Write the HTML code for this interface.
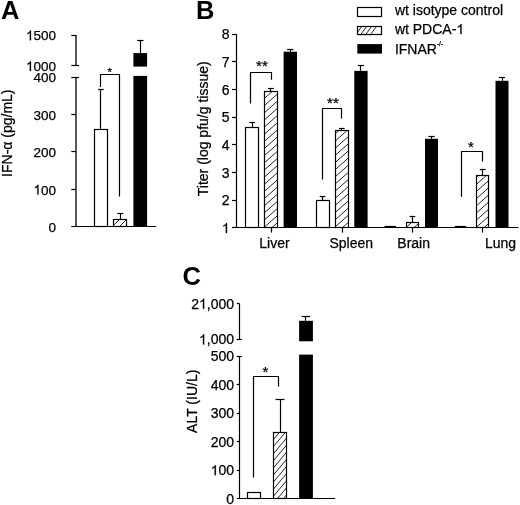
<!DOCTYPE html>
<html><head><meta charset="utf-8"><style>
html,body{margin:0;padding:0;background:#fff;}
svg{display:block;font-family:"Liberation Sans", sans-serif;filter:grayscale(1);}
text{fill:#000;stroke:#000;stroke-width:0.25px;}
</style></head><body>
<svg width="520" height="505" viewBox="0 0 520 505">
<rect width="520" height="505" fill="#fff"/>
<text x="1.0" y="18.8" font-size="25.5" text-anchor="start" font-weight="bold" style="stroke:none" >A</text>
<line x1="76.0" y1="35.1" x2="76.0" y2="65.8" stroke="#000" stroke-width="1.3"/>
<line x1="71.3" y1="35.5" x2="76.0" y2="35.5" stroke="#000" stroke-width="1.2"/>
<line x1="71.3" y1="65.5" x2="79.1" y2="65.5" stroke="#000" stroke-width="1.2"/>
<line x1="76.0" y1="77.0" x2="76.0" y2="226.7" stroke="#000" stroke-width="1.3"/>
<line x1="71.3" y1="77.5" x2="79.1" y2="77.5" stroke="#000" stroke-width="1.2"/>
<line x1="71.3" y1="189.5" x2="76.0" y2="189.5" stroke="#000" stroke-width="1.2"/>
<line x1="71.3" y1="151.5" x2="76.0" y2="151.5" stroke="#000" stroke-width="1.2"/>
<line x1="71.3" y1="114.5" x2="76.0" y2="114.5" stroke="#000" stroke-width="1.2"/>
<line x1="71.3" y1="226.5" x2="156.2" y2="226.5" stroke="#000" stroke-width="1.2"/>
<path transform="translate(25.968,40.300000000000004) scale(0.006592,-0.006592)" d="M763,0L583,0L583,1147Q518,1085 412.5,1023Q307,961 223,930L223,1104Q374,1175 487,1276Q600,1377 647,1472L763,1472Z" stroke="#000" stroke-width="37.9"/>
<text x="25.968" y="40.300000000000004" font-size="13.5" font-weight="normal" > 500</text>
<path transform="translate(25.968,71.0) scale(0.006592,-0.006592)" d="M763,0L583,0L583,1147Q518,1085 412.5,1023Q307,961 223,930L223,1104Q374,1175 487,1276Q600,1377 647,1472L763,1472Z" stroke="#000" stroke-width="37.9"/>
<text x="25.968" y="71.0" font-size="13.5" font-weight="normal" > 000</text>
<text x="56.0" y="82.2" font-size="13.5" text-anchor="end" font-weight="normal" >400</text>
<text x="56.0" y="119.69999999999999" font-size="13.5" text-anchor="end" font-weight="normal" >300</text>
<text x="56.0" y="157.09999999999997" font-size="13.5" text-anchor="end" font-weight="normal" >200</text>
<path transform="translate(33.476,194.49999999999997) scale(0.006592,-0.006592)" d="M763,0L583,0L583,1147Q518,1085 412.5,1023Q307,961 223,930L223,1104Q374,1175 487,1276Q600,1377 647,1472L763,1472Z" stroke="#000" stroke-width="37.9"/>
<text x="33.476" y="194.49999999999997" font-size="13.5" font-weight="normal" > 00</text>
<text x="56.0" y="231.89999999999998" font-size="13.5" text-anchor="end" font-weight="normal" >0</text>
<text transform="translate(11.5,133.2) rotate(-90)" font-size="14" text-anchor="middle">IFN-&#945; (pg/mL)</text>
<rect x="94.5" y="129.5" width="13.0" height="97.0" fill="#fff" stroke="#000" stroke-width="1.2"/>
<line x1="100.5" y1="89.9" x2="100.5" y2="128.8" stroke="#000" stroke-width="1.2"/>
<line x1="98.10000000000001" y1="89.5" x2="103.7" y2="89.5" stroke="#000" stroke-width="1.2"/>
<clipPath id="c1"><rect x="113.2" y="219.3" width="14.299999999999997" height="7.399999999999977"/></clipPath>
<g clip-path="url(#c1)" stroke="#000" stroke-width="0.85">
<line x1="113.20" y1="247.15" x2="127.50" y2="232.85"/>
<line x1="113.20" y1="240.00" x2="127.50" y2="225.70"/>
<line x1="113.20" y1="232.85" x2="127.50" y2="218.55"/>
<line x1="113.20" y1="225.70" x2="127.50" y2="211.40"/>
<line x1="113.20" y1="218.55" x2="127.50" y2="204.25"/>
</g>
<rect x="113.5" y="219.5" width="13.0" height="7.0" fill="none" stroke="#000" stroke-width="1.2"/>
<line x1="120.5" y1="213.7" x2="120.5" y2="219.1" stroke="#000" stroke-width="1.2"/>
<line x1="117.35" y1="213.5" x2="123.25" y2="213.5" stroke="#000" stroke-width="1.2"/>
<rect x="133.4" y="75.9" width="13.699999999999989" height="150.79999999999998" fill="#000"/>
<rect x="133.4" y="53.1" width="13.699999999999989" height="13.499999999999993" fill="#000"/>
<line x1="140.5" y1="40.2" x2="140.5" y2="53.1" stroke="#000" stroke-width="1.2"/>
<line x1="137.10000000000002" y1="40.5" x2="143.5" y2="40.5" stroke="#000" stroke-width="1.2"/>
<polyline points="100.5,86.9 100.5,74.5 119.5,74.5 119.5,196.5" fill="none" stroke="#000" stroke-width="1.2" stroke-linejoin="round"/>
<text x="109.8" y="76.46050000000001" font-size="11.5" text-anchor="middle" font-weight="normal" >*</text>
<text x="196.0" y="18.8" font-size="25.5" text-anchor="start" font-weight="bold" style="stroke:none" >B</text>
<line x1="236.5" y1="34.0" x2="236.5" y2="227.8" stroke="#000" stroke-width="1.2"/>
<line x1="232.0" y1="227.5" x2="236.4" y2="227.5" stroke="#000" stroke-width="1.2"/>
<path transform="translate(221.814,233.10000000000002) scale(0.006836,-0.006836)" d="M763,0L583,0L583,1147Q518,1085 412.5,1023Q307,961 223,930L223,1104Q374,1175 487,1276Q600,1377 647,1472L763,1472Z" stroke="#000" stroke-width="36.6"/>
<text x="221.814" y="233.10000000000002" font-size="14" font-weight="normal" > </text>
<line x1="232.0" y1="200.5" x2="236.4" y2="200.5" stroke="#000" stroke-width="1.2"/>
<text x="229.6" y="205.44000000000003" font-size="14" text-anchor="end" font-weight="normal" >2</text>
<line x1="232.0" y1="172.5" x2="236.4" y2="172.5" stroke="#000" stroke-width="1.2"/>
<text x="229.6" y="177.78000000000003" font-size="14" text-anchor="end" font-weight="normal" >3</text>
<line x1="232.0" y1="144.5" x2="236.4" y2="144.5" stroke="#000" stroke-width="1.2"/>
<text x="229.6" y="150.12" font-size="14" text-anchor="end" font-weight="normal" >4</text>
<line x1="232.0" y1="117.5" x2="236.4" y2="117.5" stroke="#000" stroke-width="1.2"/>
<text x="229.6" y="122.46000000000001" font-size="14" text-anchor="end" font-weight="normal" >5</text>
<line x1="232.0" y1="89.5" x2="236.4" y2="89.5" stroke="#000" stroke-width="1.2"/>
<text x="229.6" y="94.8" font-size="14" text-anchor="end" font-weight="normal" >6</text>
<line x1="232.0" y1="61.5" x2="236.4" y2="61.5" stroke="#000" stroke-width="1.2"/>
<text x="229.6" y="67.14" font-size="14" text-anchor="end" font-weight="normal" >7</text>
<line x1="232.0" y1="34.5" x2="236.4" y2="34.5" stroke="#000" stroke-width="1.2"/>
<text x="229.6" y="39.480000000000004" font-size="14" text-anchor="end" font-weight="normal" >8</text>
<line x1="232.0" y1="227.5" x2="518.4" y2="227.5" stroke="#000" stroke-width="1.2"/>
<line x1="271.5" y1="227.8" x2="271.5" y2="232.6" stroke="#000" stroke-width="1.2"/>
<line x1="342.5" y1="227.8" x2="342.5" y2="232.6" stroke="#000" stroke-width="1.2"/>
<line x1="412.5" y1="227.8" x2="412.5" y2="232.6" stroke="#000" stroke-width="1.2"/>
<line x1="482.5" y1="227.8" x2="482.5" y2="232.6" stroke="#000" stroke-width="1.2"/>
<text x="259.3" y="247.8" font-size="14" text-anchor="start" font-weight="normal" >Liver</text>
<text x="329.4" y="247.8" font-size="14" text-anchor="start" font-weight="normal" >Spleen</text>
<text x="397.3" y="247.8" font-size="14" text-anchor="start" font-weight="normal" >Brain</text>
<text x="485.0" y="247.8" font-size="14" text-anchor="start" font-weight="normal" >Lung</text>
<text transform="translate(208,128.8) rotate(-90)" font-size="14" text-anchor="middle">Titer (log pfu/g tissue)</text>
<rect x="245.5" y="127.5" width="13.0" height="100.0" fill="#fff" stroke="#000" stroke-width="1.2"/>
<line x1="252.5" y1="122.4" x2="252.5" y2="127.4" stroke="#000" stroke-width="1.2"/>
<line x1="249.25" y1="122.5" x2="254.95" y2="122.5" stroke="#000" stroke-width="1.2"/>
<clipPath id="c2"><rect x="264.2" y="91.2" width="13.5" height="136.60000000000002"/></clipPath>
<g clip-path="url(#c2)" stroke="#000" stroke-width="0.85">
<line x1="264.20" y1="248.75" x2="277.70" y2="236.81"/>
<line x1="264.20" y1="241.60" x2="277.70" y2="229.66"/>
<line x1="264.20" y1="234.45" x2="277.70" y2="222.51"/>
<line x1="264.20" y1="227.30" x2="277.70" y2="215.36"/>
<line x1="264.20" y1="220.15" x2="277.70" y2="208.21"/>
<line x1="264.20" y1="213.00" x2="277.70" y2="201.06"/>
<line x1="264.20" y1="205.85" x2="277.70" y2="193.91"/>
<line x1="264.20" y1="198.70" x2="277.70" y2="186.76"/>
<line x1="264.20" y1="191.55" x2="277.70" y2="179.61"/>
<line x1="264.20" y1="184.40" x2="277.70" y2="172.46"/>
<line x1="264.20" y1="177.25" x2="277.70" y2="165.31"/>
<line x1="264.20" y1="170.10" x2="277.70" y2="158.16"/>
<line x1="264.20" y1="162.95" x2="277.70" y2="151.01"/>
<line x1="264.20" y1="155.80" x2="277.70" y2="143.86"/>
<line x1="264.20" y1="148.65" x2="277.70" y2="136.71"/>
<line x1="264.20" y1="141.50" x2="277.70" y2="129.56"/>
<line x1="264.20" y1="134.35" x2="277.70" y2="122.41"/>
<line x1="264.20" y1="127.20" x2="277.70" y2="115.26"/>
<line x1="264.20" y1="120.05" x2="277.70" y2="108.11"/>
<line x1="264.20" y1="112.90" x2="277.70" y2="100.96"/>
<line x1="264.20" y1="105.75" x2="277.70" y2="93.81"/>
<line x1="264.20" y1="98.60" x2="277.70" y2="86.66"/>
<line x1="264.20" y1="91.45" x2="277.70" y2="79.51"/>
</g>
<rect x="264.5" y="91.5" width="13.0" height="136.0" fill="none" stroke="#000" stroke-width="1.2"/>
<line x1="270.5" y1="88.7" x2="270.5" y2="91.2" stroke="#000" stroke-width="1.2"/>
<line x1="268.09999999999997" y1="88.5" x2="273.8" y2="88.5" stroke="#000" stroke-width="1.2"/>
<rect x="283.6" y="51.7" width="13.399999999999977" height="176.10000000000002" fill="#000"/>
<line x1="290.5" y1="49.0" x2="290.5" y2="51.7" stroke="#000" stroke-width="1.2"/>
<line x1="287.2" y1="49.5" x2="293.40000000000003" y2="49.5" stroke="#000" stroke-width="1.2"/>
<rect x="316.5" y="200.5" width="13.0" height="27.0" fill="#fff" stroke="#000" stroke-width="1.2"/>
<line x1="322.5" y1="196.5" x2="322.5" y2="200.4" stroke="#000" stroke-width="1.2"/>
<line x1="319.7" y1="196.5" x2="325.40000000000003" y2="196.5" stroke="#000" stroke-width="1.2"/>
<clipPath id="c3"><rect x="334.7" y="130.5" width="14.100000000000023" height="97.30000000000001"/></clipPath>
<g clip-path="url(#c3)" stroke="#000" stroke-width="0.85">
<line x1="334.70" y1="248.75" x2="348.80" y2="236.28"/>
<line x1="334.70" y1="241.60" x2="348.80" y2="229.13"/>
<line x1="334.70" y1="234.45" x2="348.80" y2="221.98"/>
<line x1="334.70" y1="227.30" x2="348.80" y2="214.83"/>
<line x1="334.70" y1="220.15" x2="348.80" y2="207.68"/>
<line x1="334.70" y1="213.00" x2="348.80" y2="200.53"/>
<line x1="334.70" y1="205.85" x2="348.80" y2="193.38"/>
<line x1="334.70" y1="198.70" x2="348.80" y2="186.23"/>
<line x1="334.70" y1="191.55" x2="348.80" y2="179.08"/>
<line x1="334.70" y1="184.40" x2="348.80" y2="171.93"/>
<line x1="334.70" y1="177.25" x2="348.80" y2="164.78"/>
<line x1="334.70" y1="170.10" x2="348.80" y2="157.63"/>
<line x1="334.70" y1="162.95" x2="348.80" y2="150.48"/>
<line x1="334.70" y1="155.80" x2="348.80" y2="143.33"/>
<line x1="334.70" y1="148.65" x2="348.80" y2="136.18"/>
<line x1="334.70" y1="141.50" x2="348.80" y2="129.03"/>
<line x1="334.70" y1="134.35" x2="348.80" y2="121.88"/>
</g>
<rect x="335.5" y="130.5" width="13.0" height="97.0" fill="none" stroke="#000" stroke-width="1.2"/>
<line x1="341.5" y1="128.5" x2="341.5" y2="130.5" stroke="#000" stroke-width="1.2"/>
<line x1="338.9" y1="128.5" x2="344.6" y2="128.5" stroke="#000" stroke-width="1.2"/>
<rect x="354.3" y="70.9" width="13.300000000000011" height="156.9" fill="#000"/>
<line x1="360.5" y1="65.4" x2="360.5" y2="70.9" stroke="#000" stroke-width="1.2"/>
<line x1="357.85" y1="65.5" x2="364.05000000000007" y2="65.5" stroke="#000" stroke-width="1.2"/>
<line x1="384.6" y1="226.5" x2="396.0" y2="226.5" stroke="#000" stroke-width="1.2"/>
<clipPath id="c4"><rect x="406.2" y="222.3" width="12.5" height="5.5"/></clipPath>
<g clip-path="url(#c4)" stroke="#000" stroke-width="0.85">
<line x1="406.20" y1="248.75" x2="418.70" y2="237.69"/>
<line x1="406.20" y1="241.60" x2="418.70" y2="230.54"/>
<line x1="406.20" y1="234.45" x2="418.70" y2="223.39"/>
<line x1="406.20" y1="227.30" x2="418.70" y2="216.24"/>
</g>
<rect x="406.5" y="222.5" width="12.0" height="5.0" fill="none" stroke="#000" stroke-width="1.2"/>
<line x1="412.5" y1="216.5" x2="412.5" y2="222.3" stroke="#000" stroke-width="1.2"/>
<line x1="409.59999999999997" y1="216.5" x2="415.3" y2="216.5" stroke="#000" stroke-width="1.2"/>
<rect x="425.0" y="138.8" width="13.0" height="89.0" fill="#000"/>
<line x1="431.5" y1="136.9" x2="431.5" y2="138.8" stroke="#000" stroke-width="1.2"/>
<line x1="428.4" y1="136.5" x2="434.6" y2="136.5" stroke="#000" stroke-width="1.2"/>
<line x1="454.8" y1="226.5" x2="466.2" y2="226.5" stroke="#000" stroke-width="1.2"/>
<clipPath id="c5"><rect x="476.3" y="175.4" width="12.899999999999977" height="52.400000000000006"/></clipPath>
<g clip-path="url(#c5)" stroke="#000" stroke-width="0.85">
<line x1="476.30" y1="248.75" x2="489.20" y2="237.34"/>
<line x1="476.30" y1="241.60" x2="489.20" y2="230.19"/>
<line x1="476.30" y1="234.45" x2="489.20" y2="223.04"/>
<line x1="476.30" y1="227.30" x2="489.20" y2="215.89"/>
<line x1="476.30" y1="220.15" x2="489.20" y2="208.74"/>
<line x1="476.30" y1="213.00" x2="489.20" y2="201.59"/>
<line x1="476.30" y1="205.85" x2="489.20" y2="194.44"/>
<line x1="476.30" y1="198.70" x2="489.20" y2="187.29"/>
<line x1="476.30" y1="191.55" x2="489.20" y2="180.14"/>
<line x1="476.30" y1="184.40" x2="489.20" y2="172.99"/>
<line x1="476.30" y1="177.25" x2="489.20" y2="165.84"/>
</g>
<rect x="476.5" y="175.5" width="12.0" height="52.0" fill="none" stroke="#000" stroke-width="1.2"/>
<line x1="482.5" y1="169.2" x2="482.5" y2="175.4" stroke="#000" stroke-width="1.2"/>
<line x1="479.9" y1="169.5" x2="485.6" y2="169.5" stroke="#000" stroke-width="1.2"/>
<rect x="495.5" y="80.8" width="13.0" height="147.0" fill="#000"/>
<line x1="502.5" y1="77.1" x2="502.5" y2="80.8" stroke="#000" stroke-width="1.2"/>
<line x1="498.9" y1="77.5" x2="505.1" y2="77.5" stroke="#000" stroke-width="1.2"/>
<polyline points="250.5,103.6 250.5,72.5 271.5,72.5 271.5,79.8" fill="none" stroke="#000" stroke-width="1.2" stroke-linejoin="round"/>
<text x="261.9" y="70.80499999999999" font-size="15" text-anchor="middle" font-weight="normal" >**</text>
<polyline points="322.5,179.6 322.5,108.5 341.5,108.5 341.5,118.4" fill="none" stroke="#000" stroke-width="1.2" stroke-linejoin="round"/>
<text x="332.9" y="108.405" font-size="15" text-anchor="middle" font-weight="normal" >**</text>
<polyline points="461.5,196.8 461.5,151.5 482.5,151.5 482.5,161.5" fill="none" stroke="#000" stroke-width="1.2" stroke-linejoin="round"/>
<text x="471" y="152.405" font-size="15" text-anchor="middle" font-weight="normal" >*</text>
<rect x="357.5" y="7.5" width="24.0" height="9.0" fill="#fff" stroke="#000" stroke-width="1.2"/>
<clipPath id="c6"><rect x="357.2" y="26.0" width="24.80000000000001" height="9.399999999999999"/></clipPath>
<g clip-path="url(#c6)" stroke="#000" stroke-width="0.85">
<line x1="357.20" y1="52.93" x2="382.00" y2="18.80"/>
<line x1="357.20" y1="46.19" x2="382.00" y2="12.05"/>
<line x1="357.20" y1="39.44" x2="382.00" y2="5.31"/>
<line x1="357.20" y1="32.70" x2="382.00" y2="-1.43"/>
<line x1="357.20" y1="25.96" x2="382.00" y2="-8.18"/>
</g>
<rect x="357.5" y="26.5" width="24.0" height="8.0" fill="none" stroke="#000" stroke-width="1.2"/>
<rect x="357.3" y="44.1" width="24.69999999999999" height="9.5" fill="#000"/>
<text x="394.9" y="14.9" font-size="14" text-anchor="start" font-weight="normal" >wt isotype control</text>
<path transform="translate(456.348,34.1) scale(0.006836,-0.006836)" d="M763,0L583,0L583,1147Q518,1085 412.5,1023Q307,961 223,930L223,1104Q374,1175 487,1276Q600,1377 647,1472L763,1472Z" stroke="#000" stroke-width="36.6"/>
<text x="394.900" y="34.1" font-size="14" font-weight="normal" >wt PDCA- </text>
<text x="394.9" y="53.8" font-size="14" text-anchor="start" font-weight="normal" >IFNAR<tspan font-size="6.5" dy="-7.9">-/-</tspan></text>
<text x="182.5" y="285.0" font-size="25.5" text-anchor="start" font-weight="bold" style="stroke:none" >C</text>
<line x1="239.5" y1="303.9" x2="239.5" y2="339.6" stroke="#000" stroke-width="1.2"/>
<line x1="236.9" y1="303.5" x2="239.7" y2="303.5" stroke="#000" stroke-width="1.2"/>
<line x1="236.6" y1="339.5" x2="241.9" y2="339.5" stroke="#000" stroke-width="1.2"/>
<line x1="239.5" y1="356.4" x2="239.5" y2="498.9" stroke="#000" stroke-width="1.2"/>
<line x1="236.6" y1="356.5" x2="241.9" y2="356.5" stroke="#000" stroke-width="1.2"/>
<line x1="236.7" y1="470.5" x2="239.7" y2="470.5" stroke="#000" stroke-width="1.2"/>
<line x1="236.7" y1="441.5" x2="239.7" y2="441.5" stroke="#000" stroke-width="1.2"/>
<line x1="236.7" y1="413.5" x2="239.7" y2="413.5" stroke="#000" stroke-width="1.2"/>
<line x1="236.7" y1="384.5" x2="239.7" y2="384.5" stroke="#000" stroke-width="1.2"/>
<line x1="236.9" y1="498.5" x2="335.2" y2="498.5" stroke="#000" stroke-width="1.2"/>
<path transform="translate(198.966,308.7) scale(0.006836,-0.006836)" d="M763,0L583,0L583,1147Q518,1085 412.5,1023Q307,961 223,930L223,1104Q374,1175 487,1276Q600,1377 647,1472L763,1472Z" stroke="#000" stroke-width="36.6"/>
<text x="191.180" y="308.7" font-size="14" font-weight="normal" >2 ,000</text>
<path transform="translate(198.966,344.40000000000003) scale(0.006836,-0.006836)" d="M763,0L583,0L583,1147Q518,1085 412.5,1023Q307,961 223,930L223,1104Q374,1175 487,1276Q600,1377 647,1472L763,1472Z" stroke="#000" stroke-width="36.6"/>
<text x="198.966" y="344.40000000000003" font-size="14" font-weight="normal" > ,000</text>
<text x="234.0" y="361.2" font-size="14" text-anchor="end" font-weight="normal" >500</text>
<text x="234.0" y="389.7" font-size="14" text-anchor="end" font-weight="normal" >400</text>
<text x="234.0" y="418.2" font-size="14" text-anchor="end" font-weight="normal" >300</text>
<text x="234.0" y="446.7" font-size="14" text-anchor="end" font-weight="normal" >200</text>
<path transform="translate(210.642,475.2) scale(0.006836,-0.006836)" d="M763,0L583,0L583,1147Q518,1085 412.5,1023Q307,961 223,930L223,1104Q374,1175 487,1276Q600,1377 647,1472L763,1472Z" stroke="#000" stroke-width="36.6"/>
<text x="210.642" y="475.2" font-size="14" font-weight="normal" > 00</text>
<text x="234.0" y="503.7" font-size="14" text-anchor="end" font-weight="normal" >0</text>
<text transform="translate(197,401.3) rotate(-90)" font-size="14" text-anchor="middle">ALT (IU/L)</text>
<rect x="247.5" y="492.5" width="13.0" height="6.0" fill="#fff" stroke="#000" stroke-width="1.2"/>
<clipPath id="c7"><rect x="272.9" y="432.1" width="14.100000000000023" height="66.79999999999995"/></clipPath>
<g clip-path="url(#c7)" stroke="#000" stroke-width="0.85">
<line x1="272.90" y1="518.20" x2="287.00" y2="501.40"/>
<line x1="272.90" y1="511.10" x2="287.00" y2="494.30"/>
<line x1="272.90" y1="504.00" x2="287.00" y2="487.20"/>
<line x1="272.90" y1="496.90" x2="287.00" y2="480.10"/>
<line x1="272.90" y1="489.80" x2="287.00" y2="473.00"/>
<line x1="272.90" y1="482.70" x2="287.00" y2="465.90"/>
<line x1="272.90" y1="475.60" x2="287.00" y2="458.80"/>
<line x1="272.90" y1="468.50" x2="287.00" y2="451.70"/>
<line x1="272.90" y1="461.40" x2="287.00" y2="444.60"/>
<line x1="272.90" y1="454.30" x2="287.00" y2="437.50"/>
<line x1="272.90" y1="447.20" x2="287.00" y2="430.40"/>
<line x1="272.90" y1="440.10" x2="287.00" y2="423.30"/>
<line x1="272.90" y1="433.00" x2="287.00" y2="416.20"/>
</g>
<rect x="273.5" y="432.5" width="13.0" height="66.0" fill="none" stroke="#000" stroke-width="1.2"/>
<line x1="280.5" y1="399.2" x2="280.5" y2="432.1" stroke="#000" stroke-width="1.2"/>
<line x1="275.6" y1="399.5" x2="284.4" y2="399.5" stroke="#000" stroke-width="1.2"/>
<rect x="299.1" y="354.6" width="13.799999999999955" height="144.29999999999995" fill="#000"/>
<rect x="299.1" y="320.8" width="13.799999999999955" height="20.5" fill="#000"/>
<line x1="305.5" y1="316.7" x2="305.5" y2="320.8" stroke="#000" stroke-width="1.2"/>
<line x1="301.59999999999997" y1="316.5" x2="310.2" y2="316.5" stroke="#000" stroke-width="1.2"/>
<polyline points="253.5,477.6 253.5,376.5 278.5,376.5 278.5,386.5" fill="none" stroke="#000" stroke-width="1.2" stroke-linejoin="round"/>
<text x="265.5" y="377.005" font-size="15" text-anchor="middle" font-weight="normal" >*</text>
</svg>
</body></html>
